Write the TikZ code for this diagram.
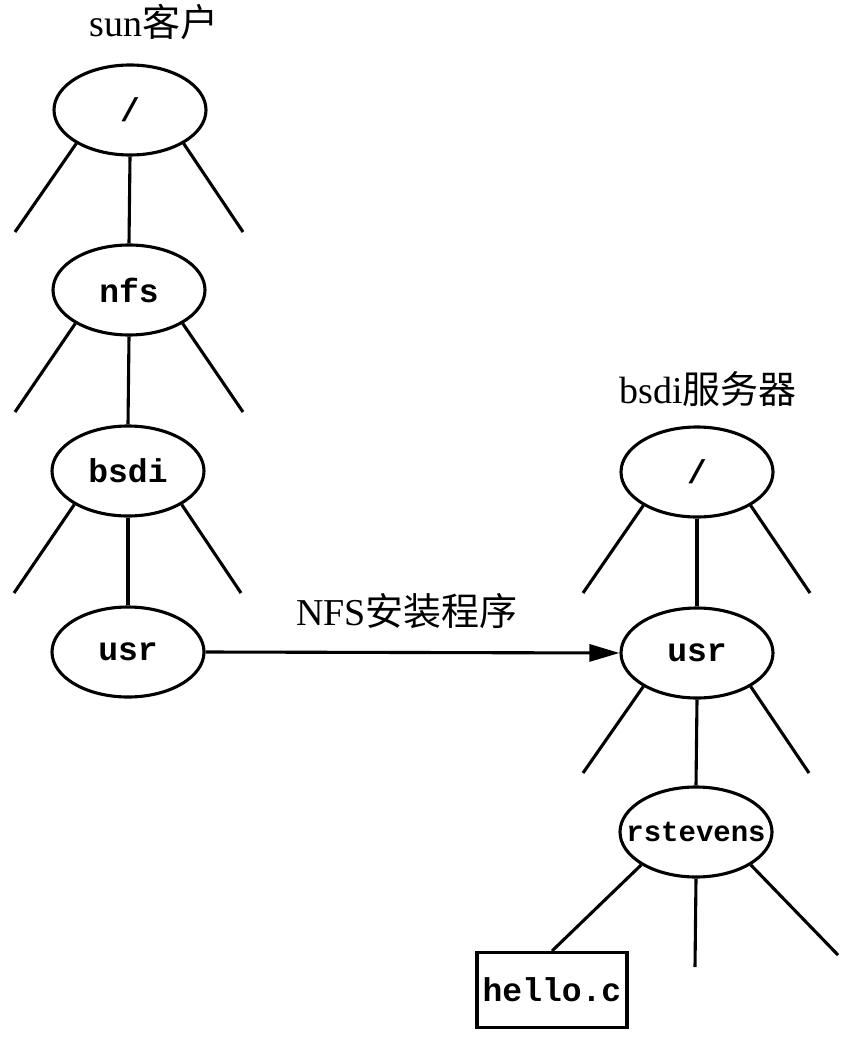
\documentclass[tikz,border=0pt]{standalone}
\usepackage{fontspec}
\setmainfont{Liberation Serif}
\setmonofont{Liberation Mono}
\newfontfamily\cjk{Noto Sans CJK SC}
\usetikzlibrary{shapes.geometric,arrows.meta}
\begin{document}
\begin{tikzpicture}[x=1pt,y=-1pt,line width=3.1pt,
  dirnode/.style={ellipse,draw,minimum width=152pt,minimum height=90pt,inner sep=0pt,
    font=\fontsize{33}{33}\selectfont\ttfamily\bfseries},
  filenode/.style={rectangle,draw,minimum width=150pt,minimum height=75pt,inner sep=0pt,
    font=\fontsize{33}{33}\selectfont\ttfamily\bfseries},
  title/.style={anchor=base,inner sep=0pt,font=\fontsize{38}{38}\selectfont},
  branch/.style={line width=3.1pt}]
\useasboundingbox (0,0) rectangle (844,1040);
\fill[white] (0,0) rectangle (844,1040);
% titles
\node[title] (tsun) at (154,37) {sun{\cjk 客户}};
\node[title] (tbsdi) at (708,403) {bsdi{\cjk 服务器}};
% left tree
\node[dirnode] (rootL) at (130,110) {/};
\node[dirnode] (nfs) at (129,290) {nfs};
\node[dirnode] (bsdi) at (128,471) {bsdi};
\node[dirnode] (usrL) at (128,652) {usr};
% right tree
\node[dirnode] (rootR) at (697,472) {/};
\node[dirnode] (usrR) at (697,653) {usr};
\node[dirnode,font=\fontsize{29}{29}\selectfont\ttfamily\bfseries] (rst) at (696,832) {\makebox[0pt]{rstevens}};
\node[filenode] (hello) at (552,990) {hello.c};
% free ends
\coordinate (rootLa) at (15,232);
\coordinate (rootLb) at (243,232);
\coordinate (nfsa) at (15,412);
\coordinate (nfsb) at (243,412);
\coordinate (bsdia) at (14,593);
\coordinate (bsdib) at (241,593);
\coordinate (rootRa) at (583,593);
\coordinate (rootRb) at (810,593);
\coordinate (usrRa) at (583,773);
\coordinate (usrRb) at (809,773);
\coordinate (rstm) at (695,967);
\coordinate (rstb) at (838,955);
% branches
\draw[branch] (rootL.212) -- (rootLa);
\draw[branch] (rootL.south) -- (nfs.north);
\draw[branch] (rootL.-32) -- (rootLb);
\draw[branch] (nfs.212) -- (nfsa);
\draw[branch] (nfs.south) -- (bsdi.north);
\draw[branch] (nfs.-32) -- (nfsb);
\draw[branch] (bsdi.212) -- (bsdia);
\draw[branch] (bsdi.south) -- (usrL.north);
\draw[branch] (bsdi.-32) -- (bsdib);
\draw[branch] (rootR.212) -- (rootRa);
\draw[branch] (rootR.south) -- (usrR.north);
\draw[branch] (rootR.-32) -- (rootRb);
\draw[branch] (usrR.212) -- (usrRa);
\draw[branch] (usrR.south) -- (rst.north);
\draw[branch] (usrR.-32) -- (usrRb);
\draw[branch] (rst.211) -- (hello.north);
\draw[branch] (rst.south) -- (rstm);
\draw[branch] (rst.-31) -- (rstb);
% mount arrow
\draw[line width=3.1pt,-{Triangle[length=30pt,width=17pt]}] (usrL.east) -- (usrR.west);
\node[title] (tmount) at (407,625) {NFS{\cjk 安装程序}};
\end{tikzpicture}
\end{document}
